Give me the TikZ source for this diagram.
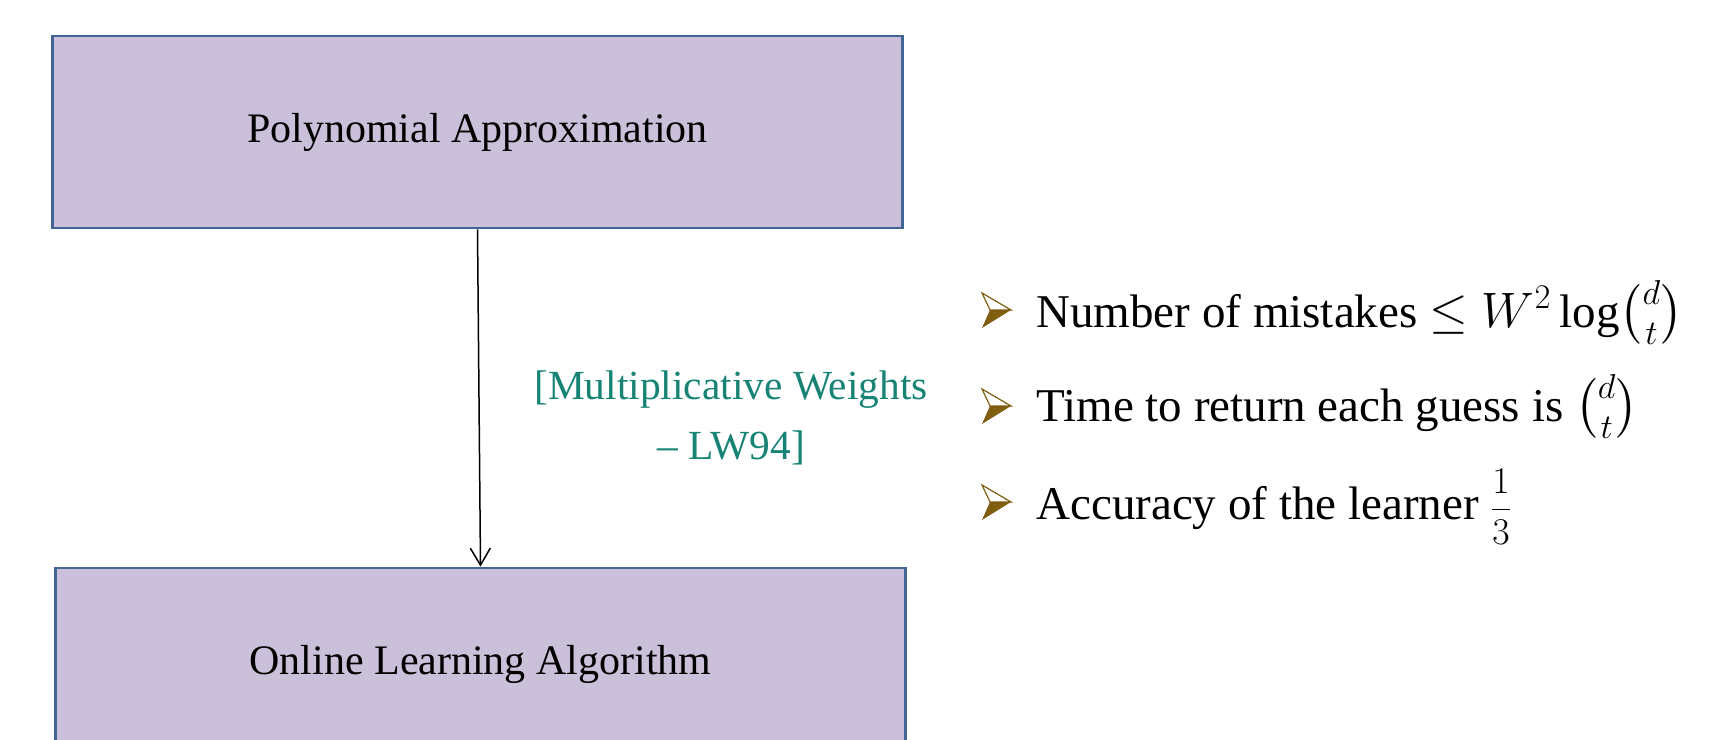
\documentclass[tikz,border=0pt]{standalone}
\usepackage{amsmath}
\usepackage{graphicx}
\usepackage{fontspec}
\setmainfont{Liberation Serif}
\usetikzlibrary{arrows.meta,positioning}
\definecolor{boxfill}{RGB}{203,192,218}
\definecolor{boxline}{RGB}{66,101,148}
\definecolor{cite}{RGB}{22,131,116}
\definecolor{tipdark}{RGB}{128,94,16}

\begin{document}
\begin{tikzpicture}[
    x=0.5pt, y=-0.5pt,
    stage/.style={draw=boxline, fill=boxfill, line width=1.4pt, minimum width=425pt, minimum height=96pt, font=\fontsize{21}{25}\selectfont},
    note/.style={font=\fontsize{20.7}{30}\selectfont, text=cite, align=center},
    item/.style={font=\fontsize{23.5}{28}\selectfont, anchor=base west, inner sep=0pt},
    arrowtip/.pic={
      \filldraw[draw=tipdark, fill=white, line width=0.6pt] (-14,-17) -- (15,0) -- (-6,0) -- cycle;
      \fill[tipdark] (-6,0) -- (15,0) -- (-14,18) -- cycle;
    }
  ]
    \useasboundingbox (0,0) rectangle (1724,739);

    \node[stage] (poly) at (477.5,132) {Polynomial Approximation};
    \node[stage] (online) at (480.5,664) {Online Learning Algorithm};
    \draw[line width=0.75pt, -{Straight Barb[length=8.5pt, width=10pt]}] (poly.south) -- (online.north);

    \node[note] (mw) at (731,418) {[Multiplicative Weights\\ -- LW94]};

    \pic at (996,310) {arrowtip};
    \pic at (996,406) {arrowtip};
    \pic at (996,502) {arrowtip};

    \node[item] (mistakes) at (1036,327) {Number of mistakes $\leq W^2\log\!\binom{d}{t}$};
    \node[item] (time) at (1036,421) {Time to return each guess is $\binom{d}{t}$};
    \node[item] (accuracy) at (1036,519) {Accuracy of the learner \scalebox{0.76}{$\dfrac{1}{3}$}};
  \end{tikzpicture}
\end{document}
